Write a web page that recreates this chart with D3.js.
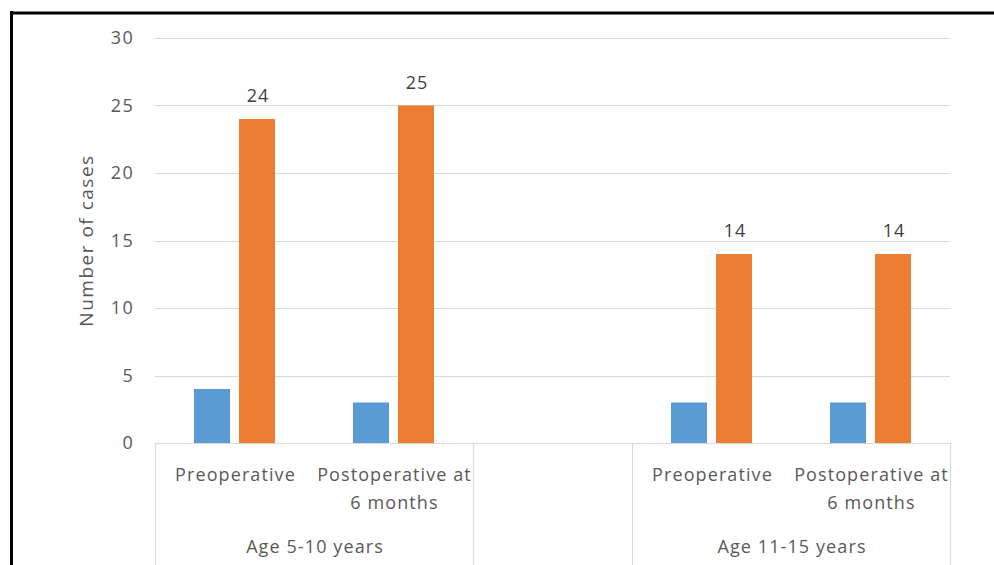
<!DOCTYPE html>
<html>
<head>
<meta charset="utf-8">
<script src="https://cdn.jsdelivr.net/npm/d3@7"></script>
<style>
  html, body { margin: 0; padding: 0; background: #fff; }
  svg { display: block; font-family: "Open Sans", sans-serif; }
</style>
</head>
<body>
<svg id="chart" width="994" height="565"></svg>
<script>
// Category slots along the x axis (the middle slot is an empty spacer between age groups)
const slotKeys = ["g1-pre", "g1-post", "spacer", "g2-pre", "g2-post"];
const slotLabels = [["Preoperative"], ["Postoperative at", "6 months"], [], ["Preoperative"], ["Postoperative at", "6 months"]];
const groupLabels = ["Age 5-10 years", "", "Age 11-15 years"];
const groupSpans = [[0, 2], [2, 3], [3, 5]];

// Series values per slot
const seriesBlue = [4, 3, null, 3, 3];
const seriesOrange = [24, 25, null, 14, 14];
const yTicks = [0, 5, 10, 15, 20, 25, 30];

const svg = d3.select("#chart");
const W = 994, H = 565;
const plot = { left: 155, right: 950, top: 38, bottom: 443 };
const textColor = "#595959";
const gridColor = "#d9d9d9";

const y = d3.scaleLinear().domain([0, 30]).range([plot.bottom, plot.top]);
const x0 = d3.scaleBand().domain(slotKeys).range([plot.left, plot.right]).padding(0);
const x1 = d3.scaleBand().domain(["blue", "orange"]).range([0, x0.bandwidth()])
  .paddingInner(0.2).paddingOuter(0.867);

// Horizontal gridlines
svg.append("g").selectAll("line").data(yTicks).join("line")
  .attr("x1", plot.left).attr("x2", plot.right)
  .attr("y1", d => Math.round(y(d)) + 0.5).attr("y2", d => Math.round(y(d)) + 0.5)
  .attr("stroke", gridColor).attr("stroke-width", 1.2);

// Y axis tick labels
const yAxis = d3.axisLeft(y).tickValues(yTicks).tickSize(0).tickPadding(21);
const gy = svg.append("g").attr("transform", `translate(${plot.left},0)`).call(yAxis);
gy.select(".domain").remove();
gy.selectAll("text").attr("fill", textColor).style("font-size", "18px")
  .style("letter-spacing", "1.3px").style("font-family", "Open Sans");

// Y axis title
svg.append("text")
  .attr("transform", `translate(93,${(plot.top + plot.bottom) / 2}) rotate(-90)`)
  .attr("text-anchor", "middle").attr("fill", textColor)
  .style("font-size", "19px").style("letter-spacing", "1.5px")
  .text("Number of cases");

// Bars
const bars = svg.append("g");
slotKeys.forEach((k, i) => {
  const pairs = [["blue", seriesBlue[i], "#5b9bd5"], ["orange", seriesOrange[i], "#ed7d31"]];
  pairs.forEach(([s, v, c]) => {
    if (v == null) return;
    bars.append("rect")
      .attr("x", x0(k) + x1(s)).attr("width", x1.bandwidth())
      .attr("y", y(v)).attr("height", y(0) - y(v))
      .attr("fill", c);
  });
  // Value labels on the orange series
  if (seriesOrange[i] != null) {
    svg.append("text")
      .attr("x", x0(k) + x1("orange") + x1.bandwidth() / 2 + 1)
      .attr("y", y(seriesOrange[i]) - 17)
      .attr("text-anchor", "middle").attr("fill", "#404040")
      .style("font-size", "18px").style("letter-spacing", "1px")
      .text(seriesOrange[i]);
  }
});

// Category axis: baseline and group separators
svg.append("line")
  .attr("x1", plot.left).attr("x2", plot.right)
  .attr("y1", plot.bottom + 0.5).attr("y2", plot.bottom + 0.5)
  .attr("stroke", gridColor).attr("stroke-width", 1.2);

const sepX = [plot.left];
groupSpans.forEach(([a, b]) => sepX.push(b < slotKeys.length ? x0(slotKeys[b]) : plot.right));
svg.append("g").selectAll("line").data(sepX).join("line")
  .attr("x1", d => Math.round(d) + 0.5).attr("x2", d => Math.round(d) + 0.5)
  .attr("y1", plot.bottom).attr("y2", H)
  .attr("stroke", gridColor).attr("stroke-width", 1.2);

// Sub-category labels
slotKeys.forEach((k, i) => {
  const cx = x0(k) + x0.bandwidth() / 2 + 1;
  const t = svg.append("text").attr("text-anchor", "middle").attr("fill", textColor)
    .style("font-size", "18px").style("letter-spacing", "1.1px");
  slotLabels[i].forEach((line, j) => {
    t.append("tspan").attr("x", cx).attr("y", 481 + j * 28).text(line);
  });
});

// Group labels
groupSpans.forEach(([a, b], i) => {
  if (!groupLabels[i]) return;
  const xa = x0(slotKeys[a]);
  const xb = b < slotKeys.length ? x0(slotKeys[b]) : plot.right;
  svg.append("text")
    .attr("x", (xa + xb) / 2 + 1).attr("y", 553)
    .attr("text-anchor", "middle").attr("fill", textColor)
    .style("font-size", "18px").style("letter-spacing", "1.1px")
    .text(groupLabels[i]);
});

// Outer frame (left and top edges)
svg.append("line").attr("x1", 11.5).attr("x2", 11.5).attr("y1", 11).attr("y2", H)
  .attr("stroke", "#000").attr("stroke-width", 3);
svg.append("line").attr("x1", 10).attr("x2", W).attr("y1", 13).attr("y2", 13)
  .attr("stroke", "#000").attr("stroke-width", 3);
</script>
</body>
</html>
